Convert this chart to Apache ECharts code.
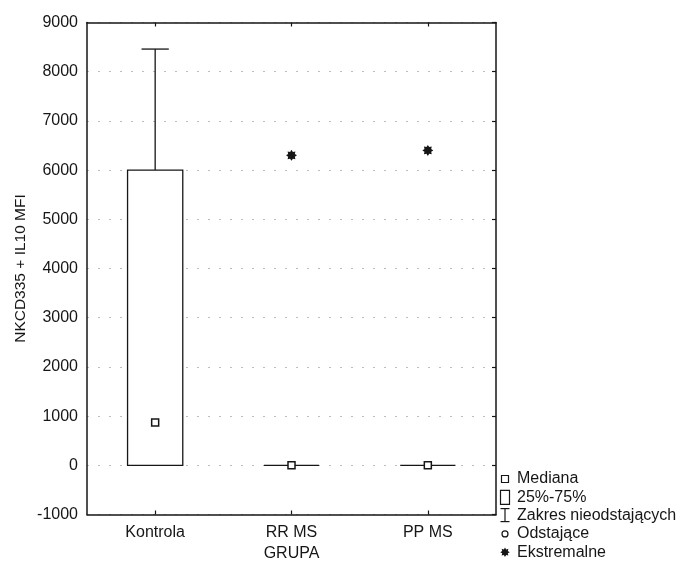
<!DOCTYPE html>
<html>
<head>
<meta charset="utf-8">
<script src="https://cdn.jsdelivr.net/npm/echarts@6/dist/echarts.min.js"></script>
<style>
  html, body { margin: 0; padding: 0; background: #ffffff; }
  #chart { width: 679px; height: 562px; }
</style>
</head>
<body>
<div id="chart"></div>
<script>
// Groups and box-plot statistics (NKCD335 + IL10 MFI)
const categories = ['Kontrola', 'RR MS', 'PP MS'];
const whiskerLow = [0, 0, 0];
const quartile1 = [0, 0, 0];
const medians = [870, 0, 0];
const quartile3 = [6000, 0, 0];
const whiskerHigh = [8460, 0, 0];
// Extreme values: [group index, value]
const extremes = [[1, 6300], [2, 6400]];
// Value axis range and step
const yMin = -1000, yMax = 9000, yStep = 1000;
const legendLabels = ['Mediana', '25%-75%', 'Zakres nieodstających', 'Odstające', 'Ekstremalne'];

const FONT = "'Liberation Sans', Arial, sans-serif";
const INK = '#161616';
const FS = 16;

// 8-armed asterisk outline, as points around (cx, cy)
function starPoints(cx, cy, R, r) {
  const pts = [];
  for (let k = 0; k < 16; k++) {
    const a = Math.PI * k / 8 - Math.PI / 2;
    const rad = (k % 2 === 0) ? R : r;
    pts.push([cx + rad * Math.cos(a), cy + rad * Math.sin(a)]);
  }
  return pts;
}
const STAR = 'path://M' + starPoints(10, 10, 10, 6.6)
  .map(p => p[0].toFixed(2) + ' ' + p[1].toFixed(2)).join(' L') + ' Z';

const boxData = categories.map((c, i) =>
  [i, whiskerLow[i], quartile1[i], medians[i], quartile3[i], whiskerHigh[i]]);

function renderBox(params, api) {
  const x = api.value(0);
  const lo = api.coord([x, api.value(1)]);
  const q1 = api.coord([x, api.value(2)]);
  const q3 = api.coord([x, api.value(4)]);
  const hi = api.coord([x, api.value(5)]);
  const band = api.size([1, 0])[0];
  const bw = band * 0.405;
  const cw = band * 0.2;
  const cx = q1[0];
  const st = { stroke: INK, lineWidth: 1.3, fill: null };
  const kids = [];
  if (hi[1] < q3[1] - 0.5) {
    kids.push({ type: 'line', shape: { x1: cx, y1: q3[1], x2: cx, y2: hi[1] }, style: st });
    kids.push({ type: 'line', shape: { x1: cx - cw / 2, y1: hi[1], x2: cx + cw / 2, y2: hi[1] }, style: st });
  }
  if (lo[1] > q1[1] + 0.5) {
    kids.push({ type: 'line', shape: { x1: cx, y1: q1[1], x2: cx, y2: lo[1] }, style: st });
    kids.push({ type: 'line', shape: { x1: cx - cw / 2, y1: lo[1], x2: cx + cw / 2, y2: lo[1] }, style: st });
  }
  if (q1[1] - q3[1] < 1) {
    kids.push({ type: 'line', shape: { x1: cx - bw / 2, y1: q1[1], x2: cx + bw / 2, y2: q1[1] }, style: st });
  } else {
    kids.push({ type: 'rect', shape: { x: cx - bw / 2, y: q3[1], width: bw, height: q1[1] - q3[1] },
      style: { stroke: INK, lineWidth: 1.3, fill: '#ffffff' } });
  }
  return { type: 'group', children: kids };
}

// Legend drawn beside the plot, lower right
const LX = 505, LT = 479, LS = 18.3;
const legendGraphics = [];
legendLabels.forEach((t, i) => {
  legendGraphics.push({
    type: 'text', x: 517, y: LT + i * LS,
    style: { text: t, font: FS + 'px ' + FONT, fill: INK, textVerticalAlign: 'middle', verticalAlign: 'middle' }
  });
});
const lst = { stroke: INK, lineWidth: 1.2, fill: '#ffffff' };
legendGraphics.push(
  { type: 'rect', shape: { x: LX - 3.5, y: LT - 3.5, width: 7, height: 7 }, style: lst },
  { type: 'rect', shape: { x: LX - 4.5, y: LT + LS - 7, width: 9, height: 14 }, style: lst },
  { type: 'line', shape: { x1: LX, y1: LT + 2 * LS - 7, x2: LX, y2: LT + 2 * LS + 6 }, style: lst },
  { type: 'line', shape: { x1: LX - 4.5, y1: LT + 2 * LS - 7, x2: LX + 4.5, y2: LT + 2 * LS - 7 }, style: lst },
  { type: 'line', shape: { x1: LX - 4.5, y1: LT + 2 * LS + 6, x2: LX + 4.5, y2: LT + 2 * LS + 6 }, style: lst },
  { type: 'circle', shape: { cx: LX, cy: LT + 3 * LS, r: 3 }, style: lst },
  { type: 'polygon', shape: { points: starPoints(LX, LT + 4 * LS, 4.8, 3) }, style: { fill: INK } }
);

const frameLine = { show: true, onZero: false, lineStyle: { color: INK, width: 1.5 } };
const innerTick = { show: true, inside: true, length: 4, lineStyle: { color: INK, width: 1.2 } };

const chart = echarts.init(document.getElementById('chart'), null, { renderer: 'canvas' });
chart.setOption({
  backgroundColor: '#ffffff',
  animation: false,
  textStyle: { fontFamily: FONT, color: INK },
  grid: { left: 87, top: 22.5, right: 183, bottom: 47.5, containLabel: false, outerBoundsMode: 'none' },
  xAxis: [{
    type: 'category', data: categories, position: 'bottom',
    name: 'GRUPA', nameLocation: 'middle', nameGap: 30,
    nameTextStyle: { fontSize: FS, color: INK, fontFamily: FONT },
    axisLine: frameLine,
    axisTick: Object.assign({ alignWithLabel: true }, innerTick),
    axisLabel: { fontSize: FS, color: INK, fontFamily: FONT, margin: 10 },
    splitLine: { show: false }
  }, {
    type: 'category', data: categories, position: 'top',
    axisLine: frameLine,
    axisTick: Object.assign({ alignWithLabel: true }, innerTick),
    axisLabel: { show: false },
    splitLine: { show: false }
  }],
  yAxis: [{
    type: 'value', min: yMin, max: yMax, interval: yStep, position: 'left',
    name: 'NKCD335 + IL10 MFI', nameLocation: 'middle', nameGap: 58, nameRotate: 90,
    nameMoveOverlap: false,
    nameTextStyle: { fontSize: 15.5, color: INK, fontFamily: FONT },
    axisLine: frameLine,
    axisTick: { show: false },
    axisLabel: { fontSize: FS, color: INK, fontFamily: FONT, margin: 9, formatter: v => String(v) },
    splitLine: { show: true, lineStyle: { color: '#bdbdbd', width: 1, type: [2, 9] } }
  }, {
    type: 'value', min: yMin, max: yMax, interval: yStep, position: 'right',
    axisLine: frameLine,
    axisTick: innerTick,
    axisLabel: { show: false },
    splitLine: { show: false }
  }],
  series: [{
    type: 'custom', renderItem: renderBox, data: boxData,
    encode: { x: 0, y: [1, 2, 3, 4, 5] }, z: 3
  }, {
    type: 'scatter', data: categories.map((c, i) => [i, medians[i]]),
    symbol: 'rect', symbolSize: 7,
    itemStyle: { color: '#ffffff', borderColor: INK, borderWidth: 1.5, opacity: 1 }, z: 4
  }, {
    type: 'scatter', data: extremes,
    symbol: STAR, symbolSize: 11,
    itemStyle: { color: INK, opacity: 1 }, z: 4
  }],
  graphic: legendGraphics
});
</script>
</body>
</html>
